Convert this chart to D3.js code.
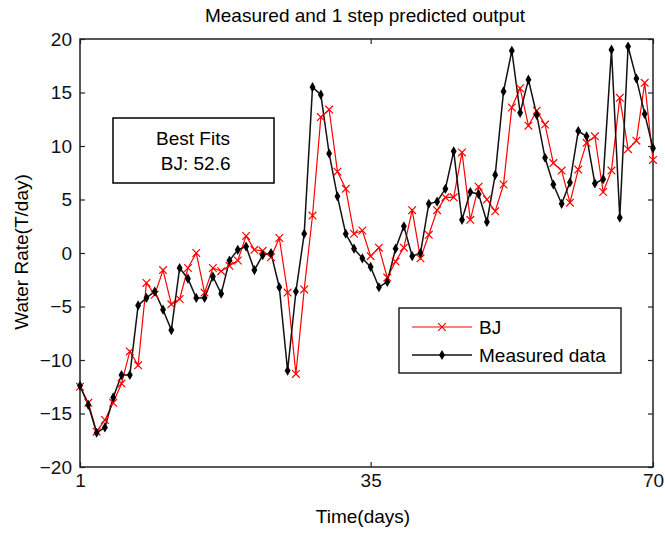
<!DOCTYPE html>
<html lang="en">
  <head>
    <meta charset="utf-8" />
    <title>Measured and 1 step predicted output</title>
    <script src="https://d3js.org/d3.v7.min.js"></script>
    <style>
      body {
        margin: 0;
        background: #fff;
      }
      text {
        font-family: "Liberation Sans", Arial, sans-serif;
      }
    </style>
  </head>
  <body>
    <script>
      // data (day 1..70)
      var days = d3.range(1, 71);
      var measured = [
        -12.4, -14.2, -16.8, -16.3, -13.5, -11.4, -11.4, -4.9, -4.2, -3.6,
        -5.3, -7.2, -1.4, -2.4, -4.2, -4.2, -2.2, -3.8, -0.7, 0.3,
        0.6, -1.6, -0.2, 0.0, -3.2, -11.0, -3.6, 1.8, 15.5, 14.8,
        9.3, 5.3, 1.8, 0.4, -0.5, -1.3, -3.2, -2.7, 0.4, 2.5,
        -0.3, 0.0, 4.6, 4.8, 6.0, 9.5, 3.1, 5.7, 5.5, 2.9,
        7.3, 15.1, 18.9, 13.1, 16.2, 12.9, 8.9, 6.4, 4.6, 6.6,
        11.4, 10.9, 6.5, 6.9, 19.0, 3.3, 19.3, 16.3, 13.0, 9.8
      ];
      var bj = [
        -12.5, -14.0, -16.7, -15.6, -14.0, -12.2, -9.2, -10.5, -2.8, -3.9,
        -1.6, -4.8, -4.3, -1.4, 0.0, -3.7, -1.4, -1.7, -1.2, -0.7,
        1.6, 0.3, 0.2, -0.4, 1.4, -3.7, -11.3, -3.4, 3.5, 12.7,
        13.4, 7.6, 6.0, 1.8, 2.1, -0.3, 0.5, -2.3, -0.8, 0.5,
        4.0, -0.5, 1.7, 4.0, 5.2, 5.2, 9.4, 3.1, 6.2, 5.0,
        3.9, 6.4, 13.6, 15.4, 11.9, 13.3, 12.0, 8.4, 7.7, 4.7,
        7.8, 10.3, 10.9, 5.7, 7.7, 14.5, 9.7, 10.5, 15.9, 8.7
      ];
      var yTicks = [-20, -15, -10, -5, 0, 5, 10, 15, 20];
      var xTickPos = [1, 36, 70];
      var xTickLabels = ["1", "35", "70"];
      var seriesNames = ["BJ", "Measured data"];
      var fitLines = ["Best Fits", " BJ: 52.6"];

      var margin = { top: 39, right: 12, bottom: 66, left: 80 };
      var width = 665 - margin.left - margin.right,
        height = 533 - margin.top - margin.bottom;

      var svg = d3
        .select("body")
        .append("svg")
        .attr("width", 665)
        .attr("height", 533);

      var g = svg
        .append("g")
        .attr("transform", "translate(" + margin.left + "," + margin.top + ")");

      var x = d3.scaleLinear().domain([1, 70]).range([0, width]);
      var y = d3.scaleLinear().domain([-20, 20]).range([height, 0]);

      // box + inward ticks on every side, like matlab
      g.append("rect")
        .attr("width", width)
        .attr("height", height)
        .attr("fill", "none")
        .attr("stroke", "#222")
        .attr("stroke-width", 1.5);

      var xAxis = d3
        .axisBottom(x)
        .tickValues(xTickPos)
        .tickSize(-5)
        .tickPadding(7)
        .tickFormat(function (d, i) {
          return xTickLabels[i];
        });
      var yAxis = d3
        .axisLeft(y)
        .tickValues(yTicks)
        .tickSize(-5)
        .tickPadding(8);

      g.append("g")
        .attr("class", "x axis")
        .attr("transform", "translate(0," + height + ")")
        .call(xAxis);
      g.append("g").attr("class", "y axis").call(yAxis);
      g.append("g")
        .attr("class", "axis2")
        .call(d3.axisTop(x).tickValues(xTickPos).tickSize(-5).tickFormat(""));
      g.append("g")
        .attr("class", "axis2")
        .attr("transform", "translate(" + width + ",0)")
        .call(d3.axisRight(y).tickValues(yTicks).tickSize(-5).tickFormat(""));

      g.selectAll(".axis path, .axis2 path").remove();
      g.selectAll(".tick line").attr("stroke", "#222").attr("stroke-width", 1.2);
      g.selectAll(".axis text")
        .style("font-size", "19px")
        .attr("fill", "#111");

      var line = d3
        .line()
        .x(function (d, i) {
          return x(days[i]);
        })
        .y(function (d) {
          return y(d);
        });

      // BJ predicted
      g.append("path")
        .datum(bj)
        .attr("fill", "none")
        .attr("stroke", "#ff0000")
        .attr("stroke-width", 1.2)
        .attr("d", line);

      // measured
      g.append("path")
        .datum(measured)
        .attr("fill", "none")
        .attr("stroke", "#111")
        .attr("stroke-width", 1.5)
        .attr("d", line);

      var cross = d3.symbol().type(d3.symbolX).size(40);
      var diamond = d3.symbol().type(d3.symbolDiamond).size(30);

      g.selectAll(".bjpt")
        .data(bj)
        .enter()
        .append("path")
        .attr("class", "bjpt")
        .attr("transform", function (d, i) {
          return "translate(" + x(days[i]) + "," + y(d) + ")";
        })
        .attr("d", cross)
        .attr("stroke", "#ff0000")
        .attr("stroke-width", 1.2)
        .attr("fill", "none");

      g.selectAll(".mpt")
        .data(measured)
        .enter()
        .append("path")
        .attr("class", "mpt")
        .attr("transform", function (d, i) {
          return "translate(" + x(days[i]) + "," + y(d) + ")";
        })
        .attr("d", diamond)
        .attr("fill", "#000");

      // titles
      svg.append("text")
        .attr("x", 365)
        .attr("y", 22)
        .attr("text-anchor", "middle")
        .style("font-size", "19px")
        .text("Measured and 1 step predicted output");

      svg.append("text")
        .attr("x", 363)
        .attr("y", 523)
        .attr("text-anchor", "middle")
        .style("font-size", "19px")
        .text("Time(days)");

      svg.append("text")
        .attr("transform", "translate(28,252) rotate(-90)")
        .attr("text-anchor", "middle")
        .style("font-size", "19px")
        .text("Water Rate(T/day)");

      // best fits box
      var fit = g.append("g").attr("transform", "translate(33,79)");
      fit.append("rect")
        .attr("width", 161)
        .attr("height", 65)
        .attr("fill", "#fff")
        .attr("stroke", "#000")
        .attr("stroke-width", 1.5);
      fit.selectAll("text")
        .data(fitLines)
        .enter()
        .append("text")
        .attr("x", 80)
        .attr("y", function (d, i) {
          return 27 + i * 25;
        })
        .attr("text-anchor", "middle")
        .style("font-size", "19px")
        .style("white-space", "pre")
        .text(function (d) {
          return d;
        });

      // legend
      var legend = g.append("g").attr("transform", "translate(319,269)");
      legend.append("rect")
        .attr("width", 222)
        .attr("height", 65)
        .attr("fill", "#fff")
        .attr("stroke", "#222")
        .attr("stroke-width", 1.5);

      var item = legend
        .selectAll(".item")
        .data(seriesNames)
        .enter()
        .append("g")
        .attr("class", "item")
        .attr("transform", function (d, i) {
          return "translate(0," + (19 + i * 28) + ")";
        });
      item.append("line")
        .attr("x1", 13)
        .attr("x2", 73)
        .attr("stroke", function (d, i) {
          return i === 0 ? "#ff0000" : "#111";
        })
        .attr("stroke-width", function (d, i) {
          return i === 0 ? 1.2 : 1.5;
        });
      item.append("path")
        .attr("transform", "translate(43,0)")
        .attr("d", function (d, i) {
          return i === 0 ? cross() : diamond();
        })
        .attr("stroke", function (d, i) {
          return i === 0 ? "#ff0000" : "none";
        })
        .attr("stroke-width", 1.2)
        .attr("fill", function (d, i) {
          return i === 0 ? "none" : "#000";
        });
      item.append("text")
        .attr("x", 80)
        .attr("dy", "0.35em")
        .style("font-size", "19px")
        .text(function (d) {
          return d;
        });
    </script>
  </body>
</html>
